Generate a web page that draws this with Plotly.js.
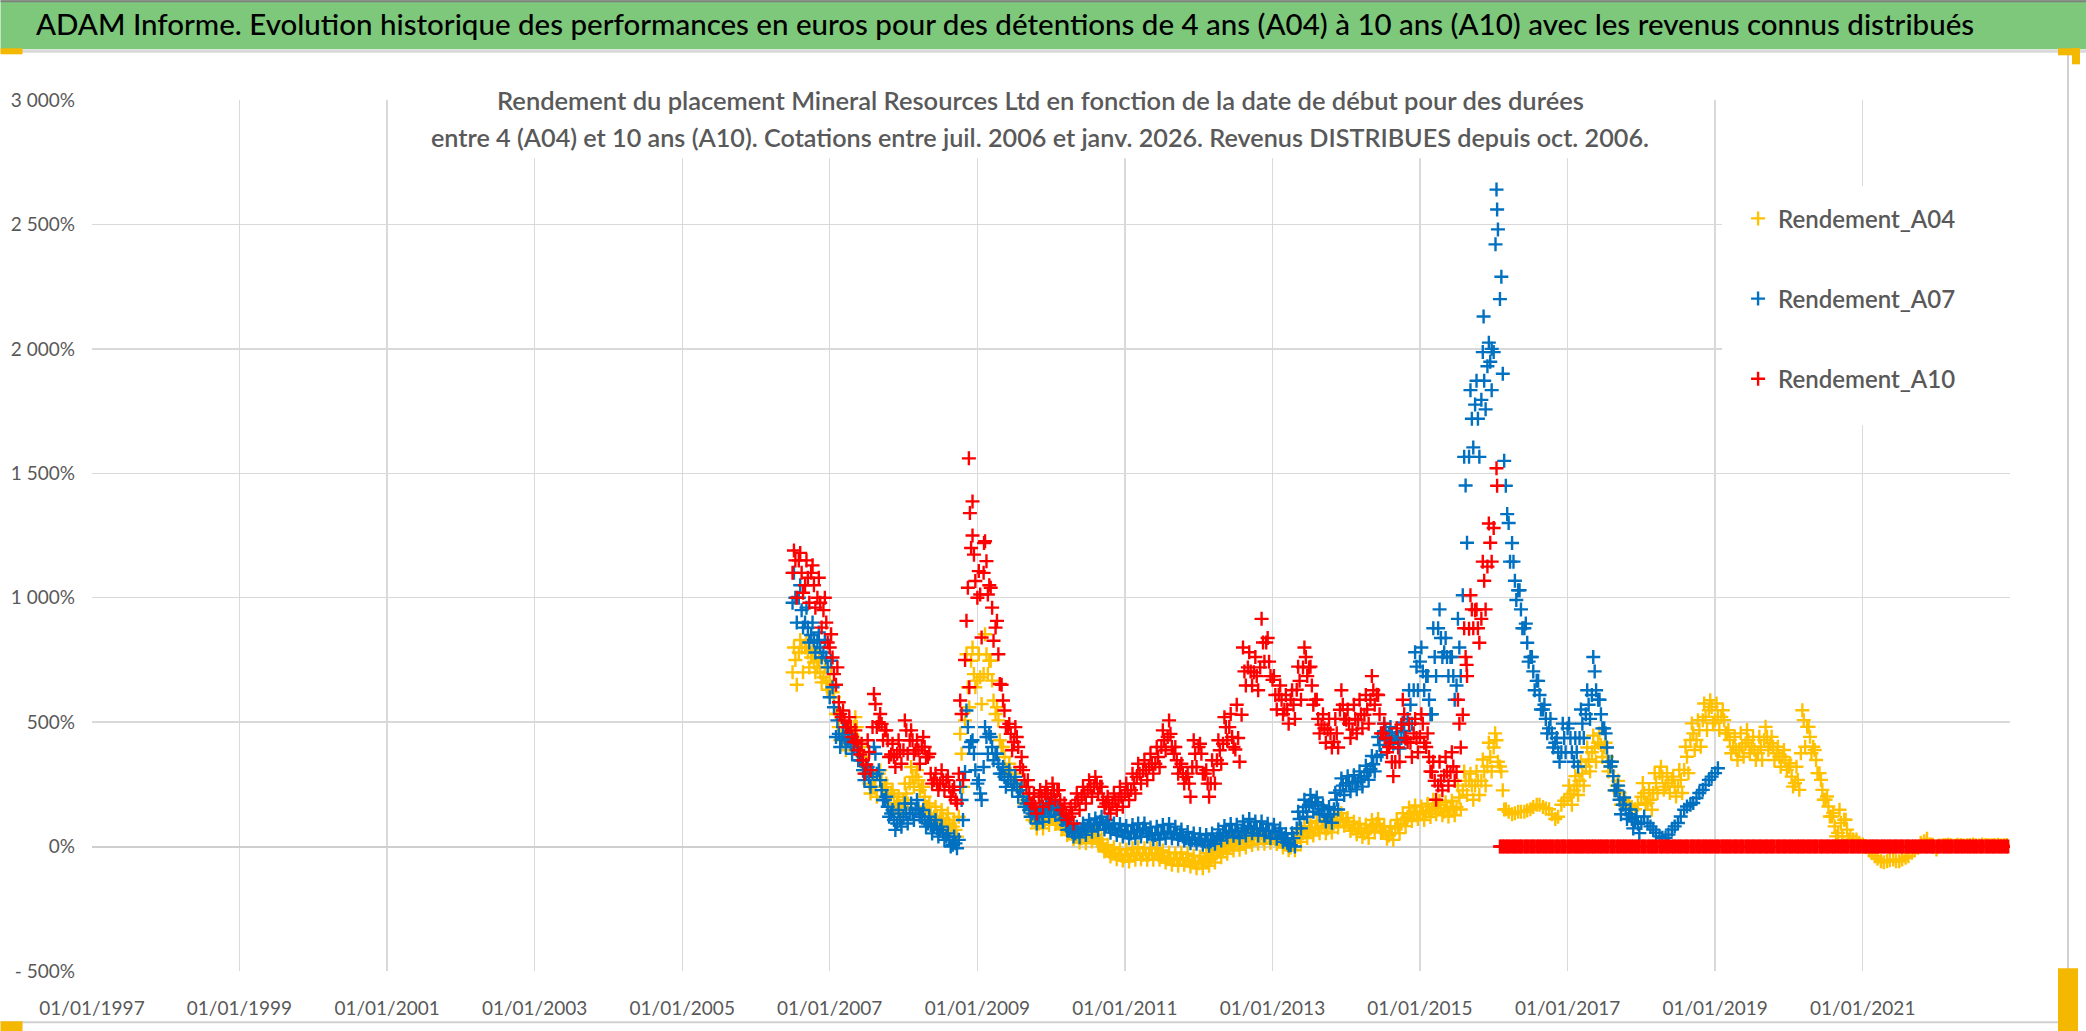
<!DOCTYPE html>
<html><head><meta charset="utf-8">
<script src="https://cdn.plot.ly/plotly-3.0.1.min.js"></script>
<style>html,body{margin:0;padding:0;background:#fff;overflow:hidden}#chart{width:2086px;height:1031px}</style>
</head><body><div id="chart"></div>
<script>
// ---- DATA ----
// readings on the 1st of each month
const months = [
 '2006-07-01','2006-08-01','2006-09-01','2006-10-01','2006-11-01','2006-12-01',
 '2007-01-01','2007-02-01','2007-03-01','2007-04-01','2007-05-01','2007-06-01','2007-07-01','2007-08-01','2007-09-01','2007-10-01','2007-11-01','2007-12-01',
 '2008-01-01','2008-02-01','2008-03-01','2008-04-01','2008-05-01','2008-06-01','2008-07-01','2008-08-01','2008-09-01','2008-10-01','2008-11-01','2008-12-01',
 '2009-01-01','2009-02-01','2009-03-01','2009-04-01','2009-05-01','2009-06-01','2009-07-01','2009-08-01','2009-09-01','2009-10-01','2009-11-01','2009-12-01',
 '2010-01-01','2010-02-01','2010-03-01','2010-04-01','2010-05-01','2010-06-01','2010-07-01','2010-08-01','2010-09-01','2010-10-01','2010-11-01','2010-12-01',
 '2011-01-01','2011-02-01','2011-03-01','2011-04-01','2011-05-01','2011-06-01','2011-07-01','2011-08-01','2011-09-01','2011-10-01','2011-11-01','2011-12-01',
 '2012-01-01','2012-02-01','2012-03-01','2012-04-01','2012-05-01','2012-06-01','2012-07-01','2012-08-01','2012-09-01','2012-10-01','2012-11-01','2012-12-01',
 '2013-01-01','2013-02-01','2013-03-01','2013-04-01','2013-05-01','2013-06-01','2013-07-01','2013-08-01','2013-09-01','2013-10-01','2013-11-01','2013-12-01',
 '2014-01-01','2014-02-01','2014-03-01','2014-04-01','2014-05-01','2014-06-01','2014-07-01','2014-08-01','2014-09-01','2014-10-01','2014-11-01','2014-12-01',
 '2015-01-01','2015-02-01','2015-03-01','2015-04-01','2015-05-01','2015-06-01','2015-07-01','2015-08-01','2015-09-01','2015-10-01','2015-11-01','2015-12-01',
 '2016-01-01','2016-02-01','2016-03-01','2016-04-01','2016-05-01','2016-06-01','2016-07-01','2016-08-01','2016-09-01','2016-10-01','2016-11-01','2016-12-01',
 '2017-01-01','2017-02-01','2017-03-01','2017-04-01','2017-05-01','2017-06-01','2017-07-01','2017-08-01','2017-09-01','2017-10-01','2017-11-01','2017-12-01',
 '2018-01-01','2018-02-01','2018-03-01','2018-04-01','2018-05-01','2018-06-01','2018-07-01','2018-08-01','2018-09-01','2018-10-01','2018-11-01','2018-12-01',
 '2019-01-01','2019-02-01','2019-03-01','2019-04-01','2019-05-01','2019-06-01','2019-07-01','2019-08-01','2019-09-01','2019-10-01','2019-11-01','2019-12-01',
 '2020-01-01','2020-02-01','2020-03-01','2020-04-01','2020-05-01','2020-06-01','2020-07-01','2020-08-01','2020-09-01','2020-10-01','2020-11-01','2020-12-01',
 '2021-01-01','2021-02-01','2021-03-01','2021-04-01','2021-05-01','2021-06-01','2021-07-01','2021-08-01','2021-09-01','2021-10-01','2021-11-01','2021-12-01',
 '2022-01-01','2022-02-01','2022-03-01','2022-04-01','2022-05-01','2022-06-01','2022-07-01','2022-08-01','2022-09-01','2022-10-01','2022-11-01','2022-12-01'
];
// readings on the 15th of each month
const midMonths = [
 '2006-07-15','2006-08-15','2006-09-15','2006-10-15','2006-11-15','2006-12-15',
 '2007-01-15','2007-02-15','2007-03-15','2007-04-15','2007-05-15','2007-06-15','2007-07-15','2007-08-15','2007-09-15','2007-10-15','2007-11-15','2007-12-15',
 '2008-01-15','2008-02-15','2008-03-15','2008-04-15','2008-05-15','2008-06-15','2008-07-15','2008-08-15','2008-09-15','2008-10-15','2008-11-15','2008-12-15',
 '2009-01-15','2009-02-15','2009-03-15','2009-04-15','2009-05-15','2009-06-15','2009-07-15','2009-08-15','2009-09-15','2009-10-15','2009-11-15','2009-12-15',
 '2010-01-15','2010-02-15','2010-03-15','2010-04-15','2010-05-15','2010-06-15','2010-07-15','2010-08-15','2010-09-15','2010-10-15','2010-11-15','2010-12-15',
 '2011-01-15','2011-02-15','2011-03-15','2011-04-15','2011-05-15','2011-06-15','2011-07-15','2011-08-15','2011-09-15','2011-10-15','2011-11-15','2011-12-15',
 '2012-01-15','2012-02-15','2012-03-15','2012-04-15','2012-05-15','2012-06-15','2012-07-15','2012-08-15','2012-09-15','2012-10-15','2012-11-15','2012-12-15',
 '2013-01-15','2013-02-15','2013-03-15','2013-04-15','2013-05-15','2013-06-15','2013-07-15','2013-08-15','2013-09-15','2013-10-15','2013-11-15','2013-12-15',
 '2014-01-15','2014-02-15','2014-03-15','2014-04-15','2014-05-15','2014-06-15','2014-07-15','2014-08-15','2014-09-15','2014-10-15','2014-11-15','2014-12-15',
 '2015-01-15','2015-02-15','2015-03-15','2015-04-15','2015-05-15','2015-06-15','2015-07-15','2015-08-15','2015-09-15','2015-10-15','2015-11-15','2015-12-15',
 '2016-01-15','2016-02-15','2016-03-15','2016-04-15','2016-05-15','2016-06-15','2016-07-15','2016-08-15','2016-09-15','2016-10-15','2016-11-15','2016-12-15',
 '2017-01-15','2017-02-15','2017-03-15','2017-04-15','2017-05-15','2017-06-15','2017-07-15','2017-08-15','2017-09-15','2017-10-15','2017-11-15','2017-12-15',
 '2018-01-15','2018-02-15','2018-03-15','2018-04-15','2018-05-15','2018-06-15','2018-07-15','2018-08-15','2018-09-15','2018-10-15','2018-11-15','2018-12-15',
 '2019-01-15','2019-02-15','2019-03-15','2019-04-15','2019-05-15','2019-06-15','2019-07-15','2019-08-15','2019-09-15','2019-10-15','2019-11-15','2019-12-15',
 '2020-01-15','2020-02-15','2020-03-15','2020-04-15','2020-05-15','2020-06-15','2020-07-15','2020-08-15','2020-09-15','2020-10-15','2020-11-15','2020-12-15',
 '2021-01-15','2021-02-15','2021-03-15','2021-04-15','2021-05-15','2021-06-15','2021-07-15','2021-08-15','2021-09-15','2021-10-15','2021-11-15','2021-12-15',
 '2022-01-15','2022-02-15','2022-03-15','2022-04-15','2022-05-15','2022-06-15','2022-07-15','2022-08-15','2022-09-15','2022-10-15','2022-11-15','2022-12-15'
];
// Rendement_A04 (%)
const rendementA04 = [
 700,780,800,760,720,680,
 667,533,440,427,480,400,320,240,293,240,213,173,
 187,253,280,240,160,120,113,107,80,120,507,747,
 667,693,747,533,400,307,267,227,187,107,93,107,
 120,100,80,60,40,33,40,47,13,-13,-27,-33,
 -40,-33,-27,-33,-33,-27,-40,-47,-53,-47,-53,-60,
 -67,-53,-47,-27,-13,0,13,15,25,34,34,34,
 34,25,15,-4,34,54,63,73,82,73,92,111,
 101,73,73,54,73,92,63,44,73,92,120,140,
 130,140,150,168,140,159,159,226,264,245,264,322,
 398,322,150,130,140,140,150,168,159,150,111,168,
 197,226,264,322,379,417,398,322,245,188,168,150,
 200,175,215,295,241,268,241,308,428,428,508,548,
 508,521,455,401,388,415,401,375,428,415,375,361,
 321,255,375,481,401,295,188,121,55,108,41,28,
 8,-12,-39,-59,-59,-52,-59,-45,-25,-5,21,8,
 -12,5,8,3,6,5,8,4,6,5,7,5
];
const rendementA04Mid = [
 750,800,780,740,700,660,
 620,480,427,440,480,360,253,240,267,213,200,160,
 213,280,267,200,133,120,113,93,67,373,640,693,
 680,773,667,507,360,293,253,200,147,100,100,113,
 113,93,69,51,37,37,43,33,0,-20,-29,-37,
 -37,-29,-29,-33,-29,-33,-43,-51,-51,-51,-56,-64,
 -64,-51,-37,-20,-7,7,11,19,31,34,31,38,
 31,19,6,15,44,57,69,77,77,82,101,107,
 88,73,63,63,82,82,54,54,82,111,130,134,
 134,145,159,153,149,153,197,264,245,264,302,360,
 427,226,140,134,140,145,159,168,153,130,120,184,
 211,245,293,350,398,408,360,283,216,178,159,168,
 215,188,255,281,255,241,268,361,455,468,521,561,
 521,508,428,388,401,428,388,401,441,401,361,348,
 281,268,508,441,348,228,161,81,95,68,28,15,
 1,-25,-49,-63,-55,-59,-52,-39,-15,15,31,-1,
 4,6,5,7,4,6,5,8,5,6,4,6
];
// upper / lower edge of the A04 point cloud
// (Jul 2006-Jun 2009, Jul 2009-Jun 2015, Jul 2015-Feb 2016, Jan-Sep 2017, Jan 2018-Oct 2020)
const a04HighP1 = [800,830,820,790,750,720, 720,533,467,480,520,400,293,280,307,253,227,200, 253,320,307,240,173,160,147,133,107,453,773,800, 773,853,747,560,400,333];
const a04LowP1  = [650,700,720,700,660,630, 600,427,387,400,427,307,213,200,227,173,160,133, 173,240,227,160,107,93,80,67,40,240,560,640, 573,693,587,427,307,253];
const a04HighP1b = [
 293,240,187,127,123,136,
 140,120,96,77,64,64,69,64,29,7,-3,-11,
 -13,-7,-3,-7,-7,-7,-16,-24,-27,-24,-29,-37,
 -40,-27,-13,7,20,33,34,44,54,57,57,61,
 57,44,31,34,69,82,96,103,103,107,126,134,
 115,100,92,88,107,111,82,77,107,134,157,165,
 161,172,188,184,178,184
];
const a04LowP1b = [
 227,173,120,73,73,87,
 91,69,47,29,16,13,20,11,-20,-40,-51,-56,
 -60,-53,-51,-53,-53,-53,-64,-73,-77,-73,-80,-87,
 -87,-77,-64,-43,-29,-16,-13,-4,6,11,11,15,
 10,-4,-15,-15,19,34,44,54,54,57,77,84,
 63,50,38,34,57,57,31,27,54,82,103,111,
 107,119,130,126,121,126
];
const a04HighP2 = [245,302,293,302,350,417,455,302];
const a04LowP2  = [149,207,188,207,245,302,341,149];
const a04HighP3 = [245,283,341,398,446,455,417,341,264];
const a04LowP3  = [168,207,245,302,341,360,302,226,168];
const a04HighP4 = [255,228,295,321,295,281,308,401,495,508,575,588, 575,548,468,441,455,468,441,441,481,441,401,388, 335,321,548,481,388,268,201,135,148,108];
const a04LowP4  = [175,148,215,228,215,201,215,295,388,401,468,495, 468,455,375,348,361,375,348,348,388,348,321,308, 241,228,401,375,295,188,121,41,41,28];

// Rendement_A07 (%), no value after Jan 2019
const rendementA07 = [
 980,1000,900,850,820,780,
 600,440,430,427,400,347,293,293,307,187,133,93,
 120,133,147,120,93,80,67,40,7,27,300,420,
 253,320,453,373,293,267,253,227,173,133,120,147,
 147,160,107,67,53,67,80,87,100,87,73,67,
 60,53,60,73,53,47,53,60,53,47,33,27,
 27,20,20,33,53,60,60,63,82,73,73,63,
 63,54,34,6,73,140,168,178,150,120,150,226,
 255,255,264,283,312,360,455,455,436,436,513,628,
 743,685,532,877,781,762,647,1010,1566,1776,1795,1930,
 1987,2200,1450,1220,1030,877,762,666,551,475,417,379,
 475,341,436,532,609,590,475,322,226,168,130,101,
 95,95,68,41,35,68,95,148,168,195,228,268,
 295,null,null,null,null,null,null,null,null,null,null,null,
 null,null,null,null,null,null,null,null,null,null,null,null,
 null,null,null,null,null,null,null,null,null,null,null,null,
 null,null,null,null,null,null,null,null,null,null,null,null
];
const rendementA07Mid = [
 1000,950,880,830,800,760,
 640,453,440,413,387,307,280,373,227,160,107,107,
 133,133,153,107,87,73,53,27,13,187,480,373,
 213,440,400,333,280,267,240,200,147,120,133,147,
 153,133,87,60,60,73,87,93,93,80,69,64,
 56,59,67,64,49,51,56,59,51,40,29,27,
 24,19,27,43,56,64,57,73,77,69,69,63,
 57,44,15,34,111,159,178,168,130,130,188,245,
 255,260,274,299,331,408,465,446,427,465,570,723,
 704,590,762,838,762,685,800,1451,1719,1719,1872,1948,
 2640,1900,1300,1068,953,819,704,609,513,455,379,436,
 436,379,494,570,704,532,398,283,188,149,111,92,
 121,81,55,35,48,81,121,161,175,215,248,281,
 315,null,null,null,null,null,null,null,null,null,null,null,
 null,null,null,null,null,null,null,null,null,null,null,null,
 null,null,null,null,null,null,null,null,null,null,null,null,
 null,null,null,null,null,null,null,null,null,null,null,null
];
// upper / lower edge of the A07 cloud (Jul 2006-Feb 2010, Mar 2010-Oct 2014, Nov 2014-Dec 2017)
const a07HighP1 = [1100,1050,960,900,860,830, 747,507,480,453,427,347,320,400,267,200,147,147, 173,173,187,147,120,107,80,53,40,240,547,427, 267,480,440,373,320,307,280,240,187,153,160,173, 180,160];
const a07LowP1  = [900,880,820,780,760,720, 560,400,400,373,347,267,240,293,187,120,67,80, 93,107,120,80,53,40,27,0,-7,107,400,307, 187,373,347,293,240,227,200,160,120,93,100,120, 127,107];
const a07HighP1b = [
 113,87,80,93,107,113,120,107,93,91,
 83,87,93,93,77,80,87,91,80,69,59,53,
 51,47,53,69,83,91,88,101,111,101,101,92,
 88,73,50,54,140,188,207,197,165,159,216,274,
 283,287,302,325,364,440,494,480,459,498
];
const a07LowP1b = [
 67,40,37,47,60,67,69,56,47,40,
 33,33,40,40,29,29,33,33,29,24,13,11,
 7,3,11,24,37,43,34,44,54,44,44,34,
 31,19,4,0,73,120,140,130,101,96,149,207,
 222,230,241,268,302,369,427,413,394,433
];
const a07HighP2 = [628,781, 800,685,877,953,838,762,915,1566,1834,1872,1987,2025, null,null,1336,1145,1030,896,762,666,570,513,436,494, 494,436,551,628,762,590,455,341,245,197,149,120];
const a07LowP2  = [494,628, 628,532,685,762,685,590,685,1221,1604,1566,1757,1834, null,null,1145,991,877,743,628,551,455,398,341,379, 379,322,436,513,628,475,341,226,130,111,73,54];

// Rendement_A10 (%), 0 from Feb 2016
const rendementA10 = [
 1100,1150,1050,1100,1000,950,
 800,650,520,480,420,370,330,480,500,467,370,373,
 387,427,387,400,360,267,253,267,227,293,750,1200,
 1000,1100,1050,880,650,480,420,320,240,173,200,213,
 200,227,147,120,173,200,227,240,240,173,173,187,
 213,227,280,307,320,333,400,440,373,320,280,320,
 400,293,253,347,413,480,390,530,720,700,720,820,
 670,610,550,590,630,720,720,590,490,470,420,550,
 510,470,510,530,590,610,455,400,340,490,420,455,
 440,400,300,245,285,300,300,530,875,950,915,1125,
 1280,0,0,0,0,0,0,0,0,0,0,0,
 0,0,0,0,0,0,0,0,0,0,0,0,
 0,0,0,0,0,0,0,0,0,0,0,0,
 0,0,0,0,0,0,0,0,0,0,0,0,
 0,0,0,0,0,0,0,0,0,0,0,0,
 0,0,0,0,0,0,0,0,0,0,0,0,
 0,0,0,0,0,0,0,0,0,0,0,0
];
const rendementA10Mid = [
 1150,1100,1080,1050,980,900,
 760,580,507,480,427,347,380,573,493,427,360,387,
 467,427,387,400,293,253,267,240,187,533,1040,1173,
 1013,1147,960,773,547,453,440,307,213,160,200,213,
 227,187,133,133,187,213,240,253,187,160,187,200,
 227,253,293,307,333,360,427,453,347,293,253,373,
 373,253,307,387,480,440,436,704,704,685,820,743,
 609,590,551,570,666,762,647,513,475,455,455,570,
 494,513,532,551,628,532,436,340,398,532,417,436,
 494,360,264,264,302,322,494,762,953,877,1068,1221,
 1520,0,0,0,0,0,0,0,0,0,0,0,
 0,0,0,0,0,0,0,0,0,0,0,0,
 0,0,0,0,0,0,0,0,0,0,0,0,
 0,0,0,0,0,0,0,0,0,0,0,0,
 0,0,0,0,0,0,0,0,0,0,0,0,
 0,0,0,0,0,0,0,0,0,0,0,0,
 0,0,0,0,0,0,0,0,0,0,0,0
];
// upper / lower edge of the A10 cloud, Jul 2006-Dec 2015
const a10High = [
 1190,1180,1150,1130,1080,1000,
 853,720,547,520,467,413,427,613,533,467,413,427,
 507,467,427,440,373,293,307,280,240,587,907,1387,
 1107,1227,1040,907,587,493,480,360,267,213,227,240,
 253,227,173,160,213,240,267,280,240,200,213,240,
 253,293,333,347,373,400,467,507,400,333,293,427,
 413,307,347,427,520,533,570,800,781,762,915,838,
 685,647,609,628,723,800,723,590,532,513,513,628,
 551,570,590,609,685,609,494,417,475,590,494,513,
 532,455,341,341,360,379,590,877,1010,953,1145,1298
];
const a10Low = [
 1000,1020,980,960,880,820,
 693,533,480,440,387,293,307,480,427,360,320,333,
 373,373,333,360,253,227,227,200,173,267,640,1067,
 840,1013,827,653,480,387,400,267,173,133,160,173,
 187,147,107,93,147,173,200,213,160,133,147,160,
 187,213,253,267,293,320,387,400,293,253,200,320,
 293,200,253,333,427,400,341,647,647,628,743,685,
 551,532,494,513,590,685,570,455,417,398,398,513,
 436,455,475,494,570,455,379,283,341,436,360,379,
 417,302,188,226,245,264,398,685,877,819,953,1145
];
// A10 flat at 0 from Feb 2016 to Dec 2022 (extra readings on the 8th and 22nd)
const a10Zero = [
 0,0,0,0,0,0,0,0,0,0,0,
 0,0,0,0,0,0,0,0,0,0,0,0,
 0,0,0,0,0,0,0,0,0,0,0,0,
 0,0,0,0,0,0,0,0,0,0,0,0,
 0,0,0,0,0,0,0,0,0,0,0,0,
 0,0,0,0,0,0,0,0,0,0,0,0,
 0,0,0,0,0,0,0,0,0,0,0,0
];
// extra isolated points around the spikes
const spikeDatesA07 = ['2015-11-12','2015-12-22','2016-01-10','2016-01-18','2016-01-22','2016-02-08','2016-02-22'];
const spikeValuesA07 = [2130,2000,2420,2560,2480,2290,1550];
const spikeDatesA10 = ['2008-11-20','2008-11-25','2008-12-08','2009-02-03','2015-08-20','2016-01-18'];
const spikeValuesA10 = [1560,1340,1250,1220,730,1450];

const seriesNames = ['Rendement_A04','Rendement_A07','Rendement_A10'];
const xTickVals = ['1997-01-01','1999-01-01','2001-01-01','2003-01-01','2005-01-01','2007-01-01','2009-01-01','2011-01-01','2013-01-01','2015-01-01','2017-01-01','2019-01-01','2021-01-01'];
const xTickText = ['01/01/1997','01/01/1999','01/01/2001','01/01/2003','01/01/2005','01/01/2007','01/01/2009','01/01/2011','01/01/2013','01/01/2015','01/01/2017','01/01/2019','01/01/2021'];
const yTickVals = [-500,0,500,1000,1500,2000,2500,3000];
const yTickText = ['- 500%','0%','500%','1 000%','1 500%','2 000%','2 500%','3 000%'];
const mainTitle = 'ADAM Informe. Evolution historique des performances en euros pour des détentions de 4 ans (A04) à 10 ans (A10) avec les revenus connus distribués';
const subTitle1 = 'Rendement du placement Mineral Resources Ltd en fonction de la date de début pour des durées';
const subTitle2 = 'entre 4 (A04) et 10 ans (A10). Cotations entre juil. 2006 et janv. 2026. Revenus DISTRIBUES depuis oct. 2006.';

// ---- assemble x/y (envelope readings sit on the 8th / 22nd of their month) ----
const day = (arr, a, b, d) => arr.slice(a, b).map(s => s.slice(0, 8) + d);
const A04x = months.concat(midMonths,
  day(months,0,36,'08'), day(months,0,36,'22'),
  day(months,36,108,'08'), day(months,36,108,'22'),
  day(months,108,116,'08'), day(months,108,116,'22'),
  day(months,126,135,'08'), day(months,126,135,'22'),
  day(months,138,172,'08'), day(months,138,172,'22'));
const A04y = rendementA04.concat(rendementA04Mid, a04HighP1, a04LowP1, a04HighP1b, a04LowP1b,
  a04HighP2, a04LowP2, a04HighP3, a04LowP3, a04HighP4, a04LowP4);
const A07x = months.concat(midMonths,
  day(months,0,44,'08'), day(months,0,44,'22'),
  day(months,44,100,'08'), day(months,44,100,'22'),
  day(months,100,138,'08'), day(months,100,138,'22'), spikeDatesA07);
const A07y = rendementA07.concat(rendementA07Mid, a07HighP1, a07LowP1, a07HighP1b, a07LowP1b,
  a07HighP2, a07LowP2, spikeValuesA07);
const A10x = months.concat(midMonths,
  day(months,0,114,'08'), day(months,0,114,'22'),
  day(months,115,198,'08'), day(months,115,198,'22'), spikeDatesA10);
const A10y = rendementA10.concat(rendementA10Mid, a10High, a10Low, a10Zero, a10Zero, spikeValuesA10);

// ---- LAYOUT HELPERS (pixel -> paper) ----
const W = 2086, H = 1031, L = 91.5, R = 2010, T = 99.7, B = 970.7;
const px = x => (x - L) / (R - L);
const py = y => (B - y) / (B - T);
const FONT = 'Lato, "Open Sans", sans-serif';
const GREY = '#595959';
const colors = ['#FFC000', '#0070C0', '#FF0000'];

function mk(i, xs, ys) {
  return {
    type: 'scatter', mode: 'markers', name: seriesNames[i], legendgroup: 'g' + i,
    x: xs, y: ys, cliponaxis: true,
    marker: { symbol: 'cross-thin', size: 10, color: colors[i], line: { width: 2.4, color: colors[i] } },
    hoverinfo: 'x+y'
  };
}
const traces = [ mk(0, A04x, A04y), mk(1, A07x, A07y), mk(2, A10x, A10y) ];

function rect(x0, y0, x1, y1, fill, layer) {
  return { type: 'rect', xref: 'paper', yref: 'paper', x0: px(x0), x1: px(x1), y0: py(y1), y1: py(y0),
           fillcolor: fill, line: { width: 0 }, layer: layer || 'above' };
}
function line(x0, y0, x1, y1, color, w) {
  return { type: 'line', xref: 'paper', yref: 'paper', x0: px(x0), x1: px(x1), y0: py(y0), y1: py(y1),
           line: { color: color, width: w }, layer: 'above' };
}

const layout = {
  width: W, height: H,
  margin: { l: L, r: W - R, t: T, b: H - B, pad: 0 },
  paper_bgcolor: '#FFFFFF', plot_bgcolor: '#FFFFFF',
  font: { family: FONT, color: GREY },
  showlegend: true,
  title: { text: mainTitle, xref: 'container', yref: 'container', x: 1005 / W, y: 1 - 25 / H,
           xanchor: 'center', yanchor: 'middle', font: { family: FONT, size: 29.5, weight: 500, color: '#000000' } },
  xaxis: {
    type: 'date', range: ['1997-01-01', '2022-12-31'],
    tickmode: 'array', tickvals: xTickVals, ticktext: xTickText,
    showgrid: true, gridcolor: '#D9D9D9', gridwidth: 1.5, zeroline: false, showline: false,
    ticks: '', ticklabelstandoff: 24, tickfont: { family: FONT, size: 19, color: GREY }
  },
  yaxis: {
    range: [-500, 3000], tickmode: 'array', tickvals: yTickVals, ticktext: yTickText,
    showgrid: true, gridcolor: '#D9D9D9', gridwidth: 1.5, zeroline: true, zerolinecolor: '#CFCFCF', zerolinewidth: 2,
    showline: false, ticks: '', ticklabelstandoff: 16, tickfont: { family: FONT, size: 19, color: GREY }
  },
  legend: {
    x: px(1738), y: py(196), xanchor: 'left', yanchor: 'top', bgcolor: 'rgba(0,0,0,0)',
    font: { family: FONT, size: 24, weight: 600, color: GREY }, tracegroupgap: 46, itemwidth: 30
  },
  shapes: [
    rect(0, 0, W, 49, '#7DC87B'),
    line(0, 1, W, 1, '#7F7F7F', 2),
    line(0, 51, W, 51, '#D9D9D9', 3),
    rect(428, 76, 1649, 158, '#FFFFFF'),
    rect(1722, 186, 2014, 425, '#FFFFFF'),
    line(2068, 53, 2068, 1021, '#D0D0D0', 2),
    line(0, 1022, 2068, 1022, '#D0D0D0', 2),
    rect(0, 48, 22, 54, '#F5B800'),
    rect(2058, 48, 2080, 55, '#F5B800'),
    rect(2072, 48, 2080, 64, '#F5B800'),
    rect(2058, 968, 2078, 1031, '#F5B800'),
    rect(0, 1021, 22, 1031, '#F5B800')
  ],
  annotations: [
    { text: subTitle1, xref: 'paper', yref: 'paper', x: px(1040), y: py(100), xanchor: 'center', yanchor: 'middle',
      showarrow: false, font: { family: FONT, size: 25.5, weight: 600, color: GREY } },
    { text: subTitle2, xref: 'paper', yref: 'paper', x: px(1040), y: py(137), xanchor: 'center', yanchor: 'middle',
      showarrow: false, font: { family: FONT, size: 25.2, weight: 600, color: GREY } }
  ]
};

Plotly.newPlot('chart', traces, layout, { displayModeBar: false, staticPlot: true });
</script>
</body></html>
